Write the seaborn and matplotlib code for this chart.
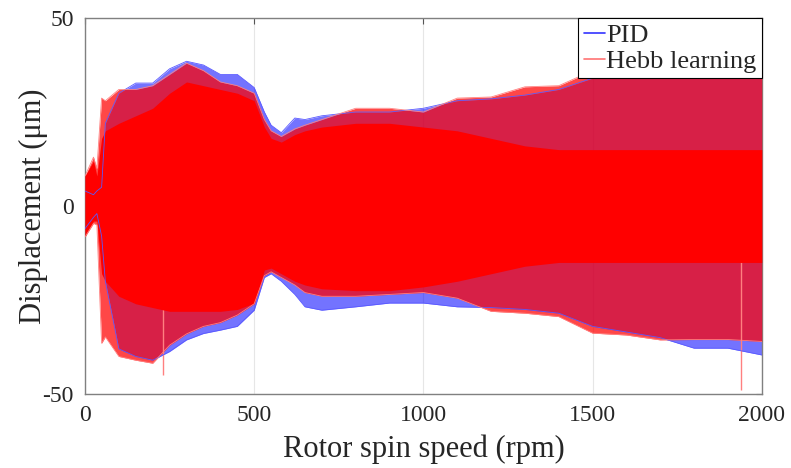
import seaborn as sns
import matplotlib.pyplot as plt
import pandas as pd

# speed samples (rpm) and envelopes of the displacement signals (um)
speed = [0, 25, 35, 49, 60, 100, 150, 200, 250, 300, 350, 400, 450, 500, 530, 550,
         580, 620, 650, 700, 800, 900, 1000, 1100, 1200, 1300, 1400, 1500, 1600,
         1700, 1800, 1900, 2000]

pid_hi = [4, 3, 4, 5, 22, 30, 32.7, 32.7, 36.5, 38.5, 37.5, 35, 35, 31.5, 25, 21.5,
          19.5, 23.4, 23, 24, 25, 25, 26, 28, 28.5, 29.5, 31, 34, 35,
          35, 35, 35, 35]
pid_lo = [-6, -3, -2, -8, -20, -38, -40, -41, -38.7, -35.6, -33.9, -33, -32, -27.7, -19, -18,
          -20, -23.5, -26.8, -27.7, -26.8, -25.8, -25.8, -26.8, -27, -27.5, -28.5, -32, -33.5,
          -35, -37.8, -37.8, -39.6]

hebb_hi = [8, 13, 10, 28.7, 28, 31, 31, 32, 35, 38, 36, 33, 32, 30, 23, 20,
           18.5, 20.5, 21.5, 23, 26, 26, 25, 28.7, 29, 31.7, 32, 36, 37,
           37, 37, 37, 37]
hebb_lo = [-8.2, -4.6, -5, -36.5, -34.8, -40, -41, -41.8, -37, -34, -32, -31, -29, -26, -18.5, -17.5,
           -19, -21, -23, -24, -24, -23.5, -23, -24.5, -28, -28.5, -29.4, -33.8, -34.3,
           -35.6, -35.5, -35.5, -36]

# dense (solid) part of the Hebb learning response
core_hi = [8, 12, 8, 18, 20, 22, 24, 26, 30, 33, 32, 31, 30, 28, 21, 18,
           17, 19, 20, 21, 22, 22, 21, 20, 18, 16, 15, 15, 15,
           15, 15, 15, 15]
core_lo = [-8, -4, -4, -18, -20, -24, -26, -27, -28, -28, -28, -28, -27.5, -25.8, -17, -16.5,
           -18, -20, -21, -22, -22.5, -22.5, -21.5, -20, -18, -16, -15, -15, -15,
           -15, -15, -15, -15]

# isolated deep spikes of the Hebb curve
spike_speed = [230, 1940]
spike_low = [-45, -49]

rows = []
for name, hi, lo in [("PID", pid_hi, pid_lo), ("Hebb learning", hebb_hi, hebb_lo)]:
    for s, h, l in zip(speed, hi, lo):
        rows.append({"speed": s, "disp": h, "controller": name, "bound": "hi"})
        rows.append({"speed": s, "disp": l, "controller": name, "bound": "lo"})
df = pd.DataFrame(rows)

sns.set_style("white")
plt.rcParams["font.family"] = ["Liberation Serif", "DejaVu Serif"]
plt.rcParams["axes.unicode_minus"] = False

fig = plt.figure(figsize=(7.91, 4.68), dpi=100)
ax = fig.add_axes([0.1075, 0.158, 0.8555, 0.8035])

ax.grid(True, color="#e6e6e6", lw=0.8, zorder=0)

ax.fill_between(speed, pid_lo, pid_hi, color=(0, 0, 1), alpha=0.55, lw=0, zorder=2)
ax.fill_between(speed, hebb_lo, hebb_hi, color=(1, 0, 0), alpha=0.72, lw=0, zorder=3)
ax.fill_between(speed, core_lo, core_hi, color=(1, 0, 0), lw=0, zorder=4)
ax.vlines(spike_speed, 0, spike_low, color=(1, 0.5, 0.5), lw=1, zorder=3)

sns.lineplot(data=df, x="speed", y="disp", hue="controller", units="bound",
             estimator=None, palette={"PID": (0.35, 0.35, 1), "Hebb learning": (1, 0.5, 0.5)},
             lw=0.6, ax=ax, zorder=5)

ax.set_xlim(0, 2000)
ax.set_ylim(-50, 50)
ax.set_xticks([0, 500, 1000, 1500, 2000])
ax.set_yticks([-50, 0, 50])
ax.set_xlabel("Rotor spin speed (rpm)", fontsize=22, labelpad=6)
ax.set_ylabel("Displacement (\u03bcm)", fontsize=22, labelpad=-4)
ax.tick_params(direction="in", top=True, right=True, length=4, labelsize=17,
               color="#555555", pad=8)
for sp in ax.spines.values():
    sp.set_color("#808080")
    sp.set_linewidth(1)

leg = ax.legend(loc="upper right", borderaxespad=0, fontsize=19, handlelength=0.8,
                handletextpad=0.05, borderpad=0.2, labelspacing=0.1, fancybox=False,
                framealpha=1, edgecolor="black")
leg.get_frame().set_linewidth(0.8)
leg.set_zorder(10)
for h, c in zip(leg.get_lines(), [(0.2, 0.2, 1), (1, 0.45, 0.45)]):
    h.set_linewidth(1.2)
    h.set_color(c)

fig.savefig("out.png", dpi=100)
